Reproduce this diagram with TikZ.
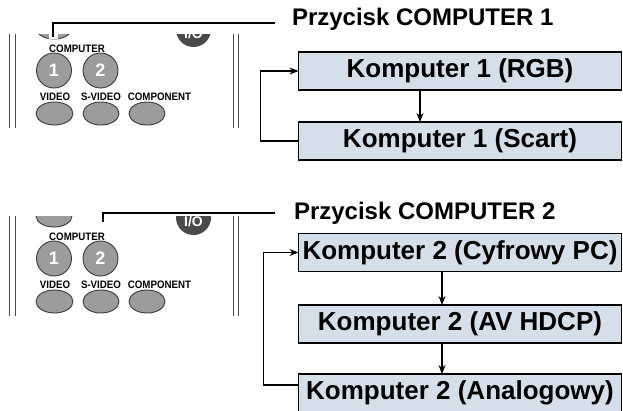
\documentclass[tikz,border=0pt]{standalone}
\usepackage{fontspec}
\setmainfont{Liberation Sans}
\newfontfamily\keyfont{Liberation Sans}[FakeStretch=0.9]
\usetikzlibrary{arrows.meta}

\definecolor{boxfill}{HTML}{D5DFEA}
\definecolor{keygrey}{HTML}{9C9C9C}
\definecolor{keyedge}{HTML}{3A3A3A}
\definecolor{darkkey}{HTML}{4A4A4A}
\definecolor{sidegrey}{HTML}{4A4A4A}

% Strip of the remote control keypad; #1 = prefix for names, #2 = top edge of the visible strip
\newcommand\drawremote[2]{%
  \begin{scope}
    \clip (0,#2) rectangle (245,128);
    \draw[rside] (9.5,0) -- (9.5,128) (15,0) -- (15,128)
                 (233,0) -- (233,128) (238,0) -- (238,128);
    \draw[rkey] (54,28) ellipse [x radius=18, y radius=11];
    \fill[darkkey] (193.5,29.5) circle [radius=17.5];
    \node[rpower, anchor=base] (#1-power) at (193.5,38) {I/O};
    \node[rlabel] (#1-comp) at (77,48.5) {COMPUTER};
    \draw[rkey] (54,70.5) circle [radius=17.5];
    \node[rdigit] (#1-one) at (54,70.5) {1};
    \draw[rkey] (100.5,70.5) circle [radius=17.5];
    \node[rdigit] (#1-two) at (100.5,70.5) {2};
    \node[rlabel] (#1-video) at (55,97) {VIDEO};
    \node[rlabel] (#1-svideo) at (101,97) {S-VIDEO};
    \node[rlabel] (#1-component) at (159.5,97) {COMPONENT};
    \draw[rkey] (54.5,113.5) ellipse [x radius=18.5, y radius=11.5];
    \draw[rkey] (101,113.5) ellipse [x radius=18, y radius=11.5];
    \draw[rkey] (147,113.5) ellipse [x radius=18, y radius=11.5];
  \end{scope}}

\begin{document}
\begin{tikzpicture}[x=1pt,y=-1pt,
  every node/.style={inner sep=0pt, outer sep=0pt},
  modebox/.style={draw=black, line width=1.9pt, fill=boxfill,
    minimum width=323pt, minimum height=38pt,
    font=\fontsize{26}{28}\selectfont\bfseries},
  caption/.style={anchor=west, font=\fontsize{24}{26}\selectfont\bfseries},
  flow/.style={line width=1.1pt, -{Stealth[length=9pt,width=7pt]}},
  leader/.style={line width=1.1pt},
  rkey/.style={fill=keygrey, draw=keyedge, line width=0.9pt},
  rlabel/.style={font=\keyfont\fontsize{10.8}{11}\selectfont\bfseries},
  rdigit/.style={text=white, font=\fontsize{18}{18}\selectfont\bfseries},
  rpower/.style={text=white, font=\fontsize{14}{14}\selectfont\bfseries},
  rside/.style={draw=sidegrey, line width=0.9pt}
]
\useasboundingbox (0,0) rectangle (623,410);

% ---------- COMPUTER 1 ----------
\drawremote{ra}{34}
\fill[white] (48.5,33.5) rectangle (57.5,38.5);
\coordinate (k1) at (53,37);
\coordinate (e1) at (275,23);
\draw[leader] (k1) |- (e1);
\node[caption] (p1) at (292,19) {Przycisk COMPUTER 1};

\node[modebox] (rgb) at (460,71) {Komputer 1 (RGB)};
\node[modebox] (scart) at (460,141) {Komputer 1 (Scart)};
\coordinate (ax1) at (420,0);
\draw[flow] (ax1 |- rgb.south) -- (ax1 |- scart.north);
\draw[flow] (scart.west) -- ++(-38,0) |- (rgb.west);

% ---------- COMPUTER 2 ----------
\begin{scope}[shift={(0,188)}]
  \drawremote{rb}{28}
\end{scope}
\coordinate (k2) at (103,222);
\coordinate (e2) at (275,213);
\draw[leader] (k2) |- (e2);
\node[caption] (p2) at (294,213) {Przycisk COMPUTER 2};

\node[modebox] (cyf) at (460,252.5) {Komputer 2 (Cyfrowy PC)};
\node[modebox] (av) at (460,324) {Komputer 2 (AV HDCP)};
\node[modebox] (ana) at (460,393) {Komputer 2 (Analogowy)};
\coordinate (ax2) at (442,0);
\draw[flow] (ax2 |- cyf.south) -- (ax2 |- av.north);
\draw[flow] (ax2 |- av.south) -- (ax2 |- ana.north);
\draw[flow] ([yshift=8pt]ana.west) -- ++(-35,0) |- (cyf.west);
\end{tikzpicture}
\end{document}
